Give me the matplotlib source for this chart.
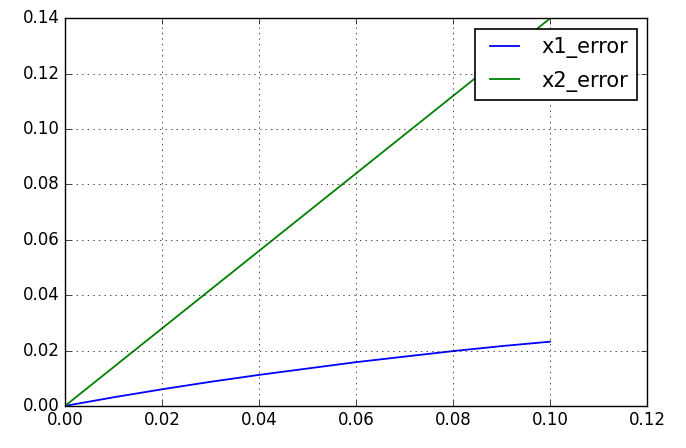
import matplotlib
matplotlib.use("Agg")
import matplotlib.pyplot as plt

plt.style.use("classic")

# values
x = [0.0, 0.01, 0.02, 0.03, 0.04, 0.05, 0.06, 0.07, 0.08, 0.09, 0.10]
x1_error = [0.0, 0.0031, 0.0060, 0.0087, 0.0112, 0.0135, 0.0158, 0.0178, 0.0198, 0.0216, 0.0232]
x2_error = [0.0, 0.014, 0.028, 0.042, 0.056, 0.070, 0.084, 0.098, 0.112, 0.126, 0.140]

fig = plt.figure(figsize=(6.86, 4.48), dpi=100, facecolor="white")
ax = fig.add_axes([0.0948, 0.094, 0.8485, 0.865])

ax.plot(x, x1_error, label="x1_error", lw=1.3)
ax.plot(x, x2_error, label="x2_error", lw=1.3)

ax.set_xlim(0, 0.12)
ax.set_ylim(0, 0.14)
ax.grid(True)
leg = ax.legend(loc="upper right", fontsize=15, labelspacing=0.6)
leg.get_frame().set_linewidth(1.2)

fig.savefig("out.png", dpi=100, facecolor="white")
